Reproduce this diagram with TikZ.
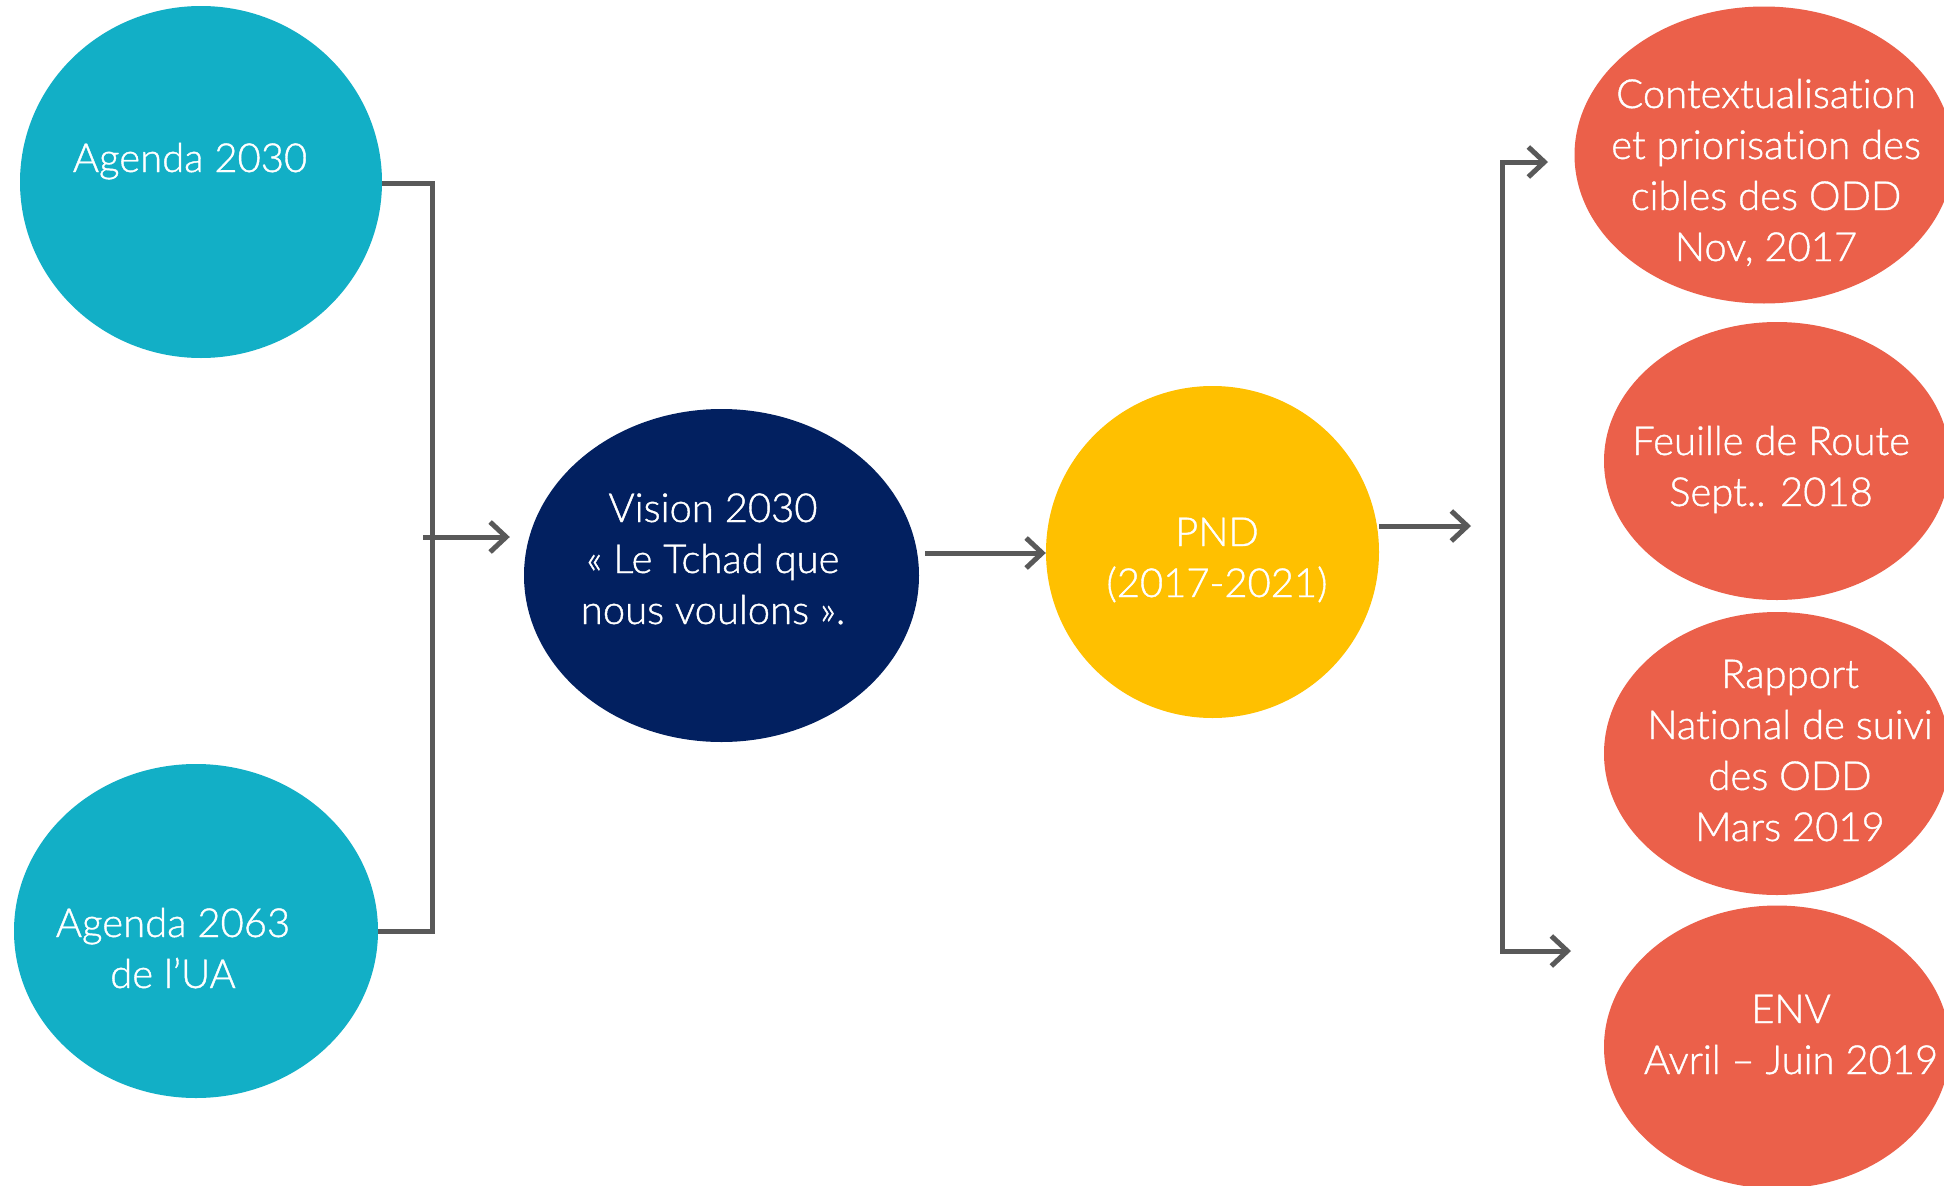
\documentclass[tikz,border=0pt]{standalone}
\usepackage{fontspec}
\setmainfont{Lato Light}[RawFeature={embolden=1.0},Ligatures={NoCommon,NoRare}]
\usetikzlibrary{shapes.geometric,arrows.meta}
\definecolor{teal}{HTML}{12AFC6}
\definecolor{navy}{HTML}{022060}
\definecolor{gold}{HTML}{FFC000}
\definecolor{coral}{HTML}{EB604A}
\definecolor{linegray}{HTML}{595959}
\tikzset{
  blob/.style={ellipse,draw=none,inner sep=0pt},
  lbl/.style={text=white,align=center,font=\fontsize{40}{51}\selectfont,anchor=base,inner sep=0pt},
  conn/.style={draw=linegray,line width=5pt,line join=miter},
  tip/.style={-{Straight Barb[length=16pt,width=30pt,line width=5pt]}},
  arr/.style={conn,tip},
}
\begin{document}
\begin{tikzpicture}[x=1pt,y=-1pt]
\useasboundingbox (0,0) rectangle (1944,1186);
\clip (0,0) rectangle (1944,1186);
\fill[white] (0,0) rectangle (1944,1186);
% ellipses
\node[blob,fill=teal,minimum width=362pt,minimum height=352pt] (a30) at (201,182) {};
\node[blob,fill=teal,minimum width=364pt,minimum height=334pt] (a63) at (196,931) {};
\node[blob,fill=navy,minimum width=395pt,minimum height=333pt] (vis) at (721.5,575.5) {};
\node[blob,fill=gold,minimum width=333pt,minimum height=332pt] (pnd) at (1212.5,552) {};
\node[blob,fill=coral,minimum width=379pt,minimum height=297pt] (r1) at (1764,155) {};
\node[blob,fill=coral,minimum width=346pt,minimum height=278pt] (r2) at (1777,461) {};
\node[blob,fill=coral,minimum width=346pt,minimum height=283pt] (r3) at (1777,753.5) {};
\node[blob,fill=coral,minimum width=346pt,minimum height=283pt] (r4) at (1777,1047) {};
% texts (anchor = baseline of last line)
\node[lbl] (ta30) at (190,172) {Agenda 2030};
\node[lbl] (ta63) at (173,988) {Agenda 2063\\de l’UA};
\node[lbl] (tvis) at (713,624) {Vision 2030\\« Le Tchad que\\nous voulons ».};
\node[lbl] (tpnd) at (1217,597) {PND\\(2017-2021)};
\node[lbl] (tr1) at (1766,261) {Contextualisation\\et priorisation des\\cibles des ODD\\Nov, 2017};
\node[lbl] (tr2) at (1771,506) {Feuille de Route\\Sept.. 2018};
\node[lbl] (tr3) at (1790,841) {Rapport\\National de suivi\\des ODD\\Mars 2019};
\node[lbl] (tr4) at (1791,1074) {ENV\\Avril – Juin 2019};
% connectors
\coordinate (j1) at (432,183);
\coordinate (j2) at (432,931);
\coordinate (js) at (423,537);
\coordinate (pe) at (1471,526);
\coordinate (bt) at (1502,162);
\coordinate (bb) at (1502,951);
\coordinate (et) at (1548,162);
\coordinate (eb) at (1571,951);
\draw[conn] (a30.east |- j1) -- (j1) -- (j2) -- (a63.east |- j2);
\draw[arr,shorten >=14pt] (js) -- (js -| vis.west);
\draw[arr,shorten <=6pt] (vis.east |- 0,553) -- (pnd.west |- 0,553);
\draw[arr] (pnd.east |- pe) -- (pe);
\draw[conn,{Straight Barb[length=16pt,width=30pt,line width=5pt]}-{Straight Barb[length=16pt,width=30pt,line width=5pt]}] (eb) -- (bb) -- (bt) -- (et);
\end{tikzpicture}
\end{document}
